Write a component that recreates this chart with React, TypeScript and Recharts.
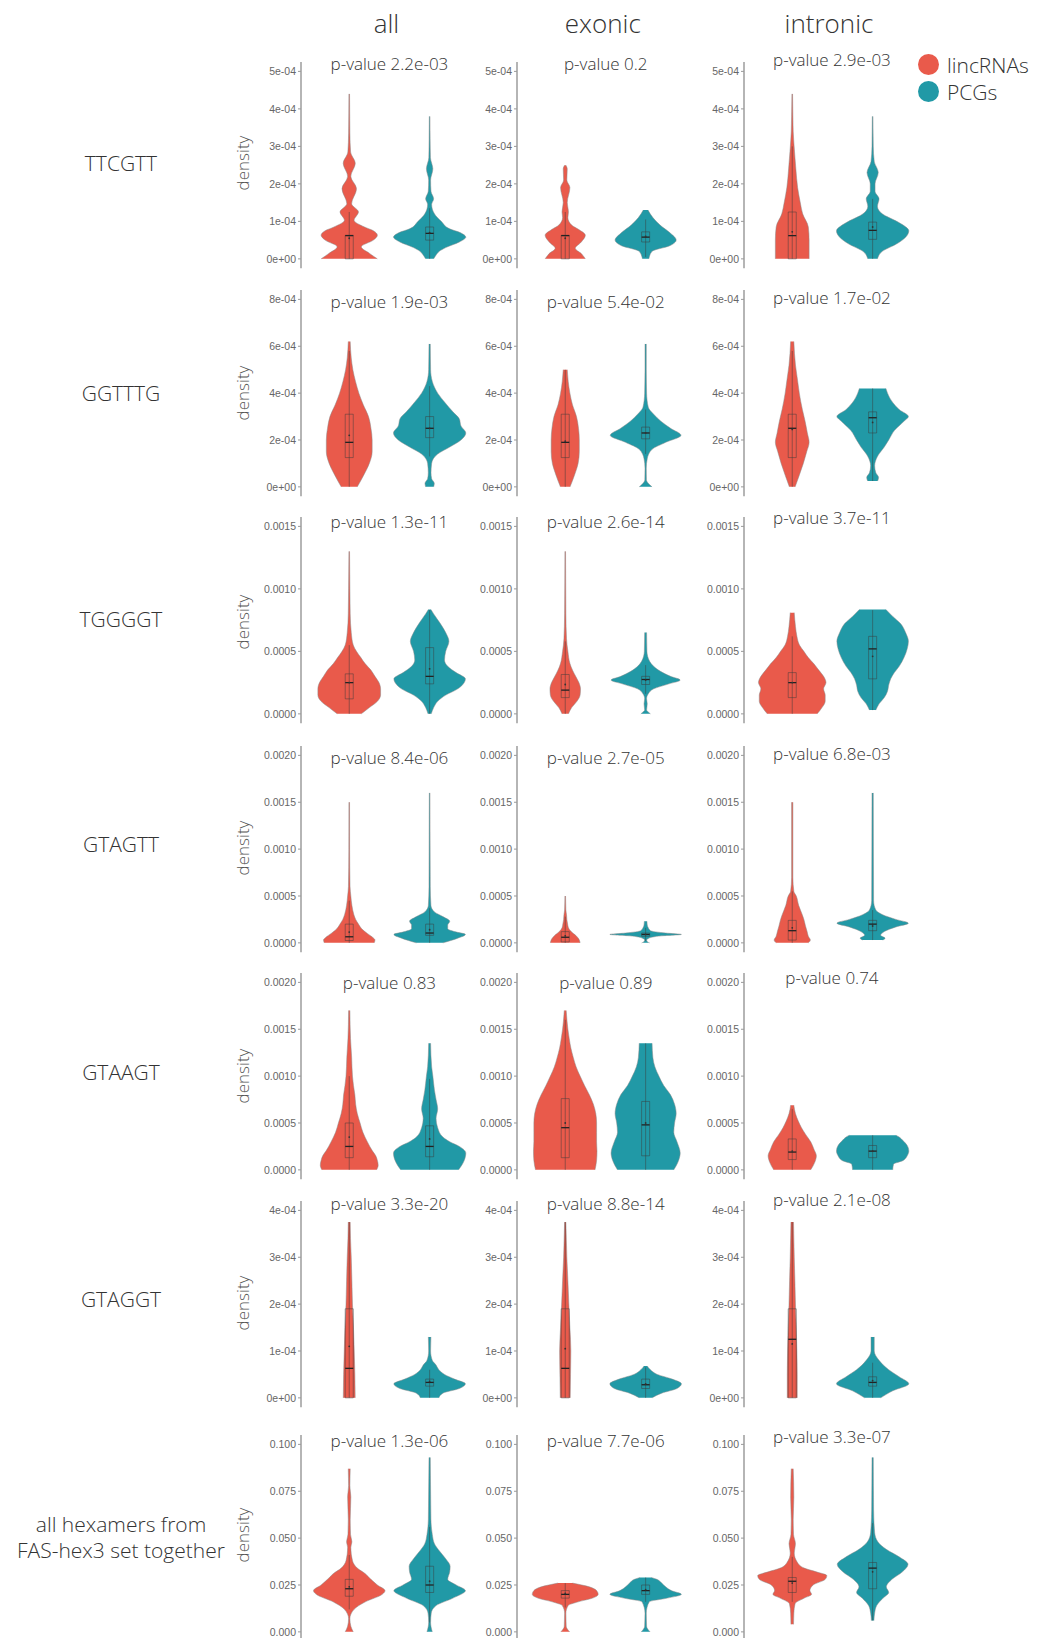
import React from "react";
import { ComposedChart, Area, XAxis, YAxis, ReferenceArea, ReferenceLine, ReferenceDot } from "recharts";

// colours
const RED = "#E95A4B";
const TEAL = "#2199A6";
const OUTLINE = "#8a8a8a";
const BOX = "#3a3a3a";

// labels
const columns = ["all", "exonic", "intronic"];
const hexamers = ["TTCGTT", "GGTTTG", "TGGGGT", "GTAGTT", "GTAAGT", "GTAGGT", "all hexamers from\nFAS-hex3 set together"];
const groups = ["lincRNAs", "PCGs"];
const pValues = [
  ["2.2e-03", "0.2", "2.9e-03"],
  ["1.9e-03", "5.4e-02", "1.7e-02"],
  ["1.3e-11", "2.6e-14", "3.7e-11"],
  ["8.4e-06", "2.7e-05", "6.8e-03"],
  ["0.83", "0.89", "0.74"],
  ["3.3e-20", "8.8e-14", "2.1e-08"],
  ["1.3e-06", "7.7e-06", "3.3e-07"],
];

// y ticks per row
const rowTicks = [
  [0, 1e-4, 2e-4, 3e-4, 4e-4, 5e-4],
  [0, 2e-4, 4e-4, 6e-4, 8e-4],
  [0, 0.0005, 0.001, 0.0015],
  [0, 0.0005, 0.001, 0.0015, 0.002],
  [0, 0.0005, 0.001, 0.0015, 0.002],
  [0, 1e-4, 2e-4, 3e-4, 4e-4],
  [0, 0.025, 0.05, 0.075, 0.1],
];
const rowTickLabels = [
  ["0e+00", "1e-04", "2e-04", "3e-04", "4e-04", "5e-04"],
  ["0e+00", "2e-04", "4e-04", "6e-04", "8e-04"],
  ["0.0000", "0.0005", "0.0010", "0.0015"],
  ["0.0000", "0.0005", "0.0010", "0.0015", "0.0020"],
  ["0.0000", "0.0005", "0.0010", "0.0015", "0.0020"],
  ["0e+00", "1e-04", "2e-04", "3e-04", "4e-04"],
  ["0.000", "0.025", "0.050", "0.075", "0.100"],
];

// violins: [density value, half width in group units]
// boxes: [whisker low, q1, median, q3, whisker high, mean]
const ttcgttAllLinc = [[0, 0.35], [0.15e-4, 0.25], [0.32e-4, 0.15], [0.5e-4, 0.3], [0.63e-4, 0.35], [0.75e-4, 0.3], [0.85e-4, 0.19], [1.03e-4, 0.06], [1.25e-4, 0.115], [1.47e-4, 0.03], [1.87e-4, 0.09], [2.2e-4, 0.02], [2.55e-4, 0.075], [2.85e-4, 0.017], [3.35e-4, 0.008], [4.4e-4, 0.004]];
const ttcgttAllPcg = [[0, 0.05], [0.1e-4, 0.08], [0.2e-4, 0.12], [0.3e-4, 0.2], [0.45e-4, 0.37], [0.58e-4, 0.45], [0.7e-4, 0.38], [0.8e-4, 0.25], [1.0e-4, 0.145], [1.2e-4, 0.06], [1.45e-4, 0.025], [1.6e-4, 0.05], [1.8e-4, 0.017], [2.1e-4, 0.012], [2.4e-4, 0.04], [2.7e-4, 0.01], [3.2e-4, 0.006], [3.8e-4, 0.004]];
const ttcgttExoLinc = [[0, 0.25], [0.14e-4, 0.2], [0.28e-4, 0.125], [0.45e-4, 0.2], [0.63e-4, 0.25], [0.78e-4, 0.17], [0.9e-4, 0.08], [1.1e-4, 0.033], [1.25e-4, 0.04], [1.5e-4, 0.025], [1.9e-4, 0.058], [2.1e-4, 0.02], [2.4e-4, 0.025], [2.5e-4, 0.008]];
const ttcgttExoPcg = [[0, 0.04], [0.2e-4, 0.08], [0.35e-4, 0.3], [0.5e-4, 0.38], [0.7e-4, 0.3], [0.9e-4, 0.18], [1.1e-4, 0.09], [1.3e-4, 0.03]];
const ttcgttIntLinc = [[0, 0.21], [0.5e-4, 0.21], [0.85e-4, 0.2], [1.2e-4, 0.13], [1.5e-4, 0.1], [1.9e-4, 0.067], [2.4e-4, 0.045], [2.9e-4, 0.027], [3.4e-4, 0.012], [3.8e-4, 0.008], [4.4e-4, 0.004]];
const ttcgttIntPcg = [[0, 0.06], [0.2e-4, 0.12], [0.4e-4, 0.3], [0.6e-4, 0.42], [0.75e-4, 0.45], [0.9e-4, 0.38], [1.0e-4, 0.3], [1.2e-4, 0.12], [1.4e-4, 0.06], [1.6e-4, 0.08], [1.8e-4, 0.03], [2.0e-4, 0.03], [2.3e-4, 0.07], [2.6e-4, 0.02], [3.0e-4, 0.008], [3.8e-4, 0.004]];
const ttcgttBoxes = [
  [[0, 0, 0.62e-4, 0.63e-4, 1.25e-4, 0.55e-4], [0, 0.5e-4, 0.68e-4, 0.85e-4, 1.35e-4, 0.7e-4]],
  [[0, 0, 0.62e-4, 0.63e-4, 1.25e-4, 0.55e-4], [0.05e-4, 0.45e-4, 0.58e-4, 0.72e-4, 1.05e-4, 0.6e-4]],
  [[0, 0, 0.62e-4, 1.25e-4, 3.0e-4, 0.72e-4], [0, 0.52e-4, 0.76e-4, 0.98e-4, 1.6e-4, 0.85e-4]],
];

const ggtttgAllLinc = [[0, 0.1], [0.5e-4, 0.18], [1.0e-4, 0.25], [1.5e-4, 0.285], [2.0e-4, 0.285], [2.5e-4, 0.27], [3.0e-4, 0.24], [3.5e-4, 0.175], [4.0e-4, 0.12], [4.5e-4, 0.078], [5.0e-4, 0.045], [5.5e-4, 0.025], [6.2e-4, 0.012]];
const ggtttgAllPcg = [[0, 0.05], [0.15e-4, 0.058], [0.35e-4, 0.025], [0.6e-4, 0.017], [1.0e-4, 0.025], [1.4e-4, 0.1], [1.7e-4, 0.25], [2.0e-4, 0.39], [2.3e-4, 0.45], [2.6e-4, 0.39], [2.9e-4, 0.37], [3.2e-4, 0.29], [3.6e-4, 0.19], [4.0e-4, 0.1], [4.5e-4, 0.033], [5.0e-4, 0.012], [6.1e-4, 0.008]];
const ggtttgExoLinc = [[0, 0.06], [0.5e-4, 0.115], [1.0e-4, 0.16], [1.5e-4, 0.175], [2.0e-4, 0.175], [2.5e-4, 0.165], [3.0e-4, 0.14], [3.5e-4, 0.09], [4.0e-4, 0.058], [4.5e-4, 0.037], [5.0e-4, 0.025]];
const ggtttgExoPcg = [[0, 0.08], [0.15e-4, 0.033], [0.3e-4, 0.01], [0.8e-4, 0.008], [1.2e-4, 0.02], [1.6e-4, 0.08], [1.9e-4, 0.25], [2.2e-4, 0.44], [2.5e-4, 0.31], [2.8e-4, 0.19], [3.1e-4, 0.1], [3.4e-4, 0.033], [4.0e-4, 0.012], [5.0e-4, 0.008], [6.1e-4, 0.008]];
const ggtttgIntLinc = [[0, 0.036], [0.5e-4, 0.088], [1.0e-4, 0.138], [1.5e-4, 0.18], [1.9e-4, 0.21], [2.3e-4, 0.188], [2.8e-4, 0.16], [3.3e-4, 0.126], [4.0e-4, 0.088], [4.6e-4, 0.064], [5.2e-4, 0.04], [6.2e-4, 0.02]];
const ggtttgIntPcg = [[0.25e-4, 0.062], [0.4e-4, 0.074], [0.6e-4, 0.04], [0.9e-4, 0.025], [1.3e-4, 0.06], [1.7e-4, 0.145], [2.0e-4, 0.2], [2.4e-4, 0.27], [2.8e-4, 0.39], [3.0e-4, 0.445], [3.3e-4, 0.33], [3.6e-4, 0.25], [4.0e-4, 0.185], [4.2e-4, 0.165]];
const ggtttgBoxes = [
  [[0, 1.25e-4, 1.9e-4, 3.1e-4, 5.8e-4, 2.2e-4], [1.3e-4, 2.1e-4, 2.5e-4, 3.0e-4, 4.3e-4, 2.5e-4]],
  [[0, 1.25e-4, 1.9e-4, 3.1e-4, 5.0e-4, 1.95e-4], [1.4e-4, 2.05e-4, 2.3e-4, 2.55e-4, 3.3e-4, 2.3e-4]],
  [[0, 1.25e-4, 2.5e-4, 3.1e-4, 5.8e-4, 2.45e-4], [0.25e-4, 2.3e-4, 2.95e-4, 3.2e-4, 4.2e-4, 2.75e-4]],
];

const tggggtAllLinc = [[0, 0.15], [0.5e-4, 0.25], [1.0e-4, 0.35], [1.5e-4, 0.39], [2.0e-4, 0.39], [2.5e-4, 0.37], [3.0e-4, 0.32], [3.5e-4, 0.27], [4.0e-4, 0.2], [4.5e-4, 0.145], [5.0e-4, 0.09], [5.5e-4, 0.05], [6.5e-4, 0.025], [8.0e-4, 0.012], [10e-4, 0.008], [13e-4, 0.004]];
const tggggtAllPcg = [[0, 0.02], [0.5e-4, 0.05], [1.0e-4, 0.1], [1.5e-4, 0.2], [2.0e-4, 0.35], [2.5e-4, 0.43], [2.8e-4, 0.445], [3.3e-4, 0.33], [3.8e-4, 0.225], [4.3e-4, 0.185], [5.0e-4, 0.2], [5.8e-4, 0.24], [6.5e-4, 0.2], [7.3e-4, 0.125], [8.0e-4, 0.05], [8.35e-4, 0.016]];
const tggggtExoLinc = [[0, 0.04], [0.5e-4, 0.08], [1.0e-4, 0.145], [1.5e-4, 0.185], [2.0e-4, 0.19], [2.5e-4, 0.17], [3.0e-4, 0.13], [3.5e-4, 0.09], [4.0e-4, 0.06], [5.0e-4, 0.033], [6.0e-4, 0.016], [8.0e-4, 0.008], [13e-4, 0.004]];
const tggggtExoPcg = [[0, 0.06], [0.15e-4, 0.033], [0.3e-4, 0.012], [0.8e-4, 0.02], [1.2e-4, 0.012], [1.6e-4, 0.033], [2.0e-4, 0.1], [2.4e-4, 0.29], [2.7e-4, 0.43], [3.0e-4, 0.31], [3.4e-4, 0.185], [3.8e-4, 0.1], [4.2e-4, 0.05], [5.0e-4, 0.016], [6.5e-4, 0.012]];
const tggggtIntLinc = [[0, 0.31], [0.5e-4, 0.37], [1.0e-4, 0.41], [1.5e-4, 0.41], [2.0e-4, 0.39], [2.5e-4, 0.42], [3.0e-4, 0.39], [3.5e-4, 0.33], [4.0e-4, 0.27], [4.5e-4, 0.2], [5.0e-4, 0.145], [5.5e-4, 0.09], [6.2e-4, 0.058], [7.0e-4, 0.04], [8.1e-4, 0.025]];
const tggggtIntPcg = [[0.3e-4, 0.04], [0.8e-4, 0.08], [1.3e-4, 0.145], [1.8e-4, 0.185], [2.3e-4, 0.2], [2.8e-4, 0.225], [3.3e-4, 0.27], [3.8e-4, 0.33], [4.5e-4, 0.39], [5.2e-4, 0.43], [5.8e-4, 0.445], [6.5e-4, 0.41], [7.2e-4, 0.35], [7.8e-4, 0.25], [8.35e-4, 0.165]];
const tggggtBoxes = [
  [[0, 1.2e-4, 2.5e-4, 3.2e-4, 5.5e-4, 2.5e-4], [0, 2.4e-4, 3.0e-4, 5.3e-4, 8.3e-4, 3.6e-4]],
  [[0, 1.3e-4, 1.9e-4, 3.15e-4, 5.8e-4, 2.35e-4], [1.6e-4, 2.35e-4, 2.75e-4, 3.0e-4, 3.9e-4, 2.7e-4]],
  [[0, 1.3e-4, 2.5e-4, 3.3e-4, 6.2e-4, 2.5e-4], [0.3e-4, 2.8e-4, 5.2e-4, 6.2e-4, 8.3e-4, 4.6e-4]],
];

const gtagttAllLinc = [[0, 0.31], [0.3e-4, 0.32], [0.6e-4, 0.29], [1.0e-4, 0.225], [1.5e-4, 0.155], [2.0e-4, 0.115], [2.5e-4, 0.08], [3.0e-4, 0.058], [4.0e-4, 0.033], [5.0e-4, 0.02], [6.0e-4, 0.01], [10e-4, 0.005], [15e-4, 0.004]];
const gtagttAllPcg = [[0, 0.165], [0.5e-4, 0.35], [0.9e-4, 0.445], [1.2e-4, 0.31], [1.5e-4, 0.225], [1.9e-4, 0.225], [2.3e-4, 0.25], [2.8e-4, 0.165], [3.3e-4, 0.06], [4.0e-4, 0.016], [6.0e-4, 0.008], [16e-4, 0.004]];
const gtagttExoLinc = [[0, 0.185], [0.4e-4, 0.17], [0.8e-4, 0.13], [1.2e-4, 0.074], [1.6e-4, 0.04], [2.0e-4, 0.03], [2.5e-4, 0.02], [3.0e-4, 0.016], [3.5e-4, 0.008], [5.0e-4, 0.004]];
const gtagttExoPcg = [[0, 0.05], [0.1e-4, 0.025], [0.3e-4, 0.012], [0.5e-4, 0.04], [0.75e-4, 0.2], [0.9e-4, 0.445], [1.05e-4, 0.25], [1.3e-4, 0.06], [1.6e-4, 0.033], [1.9e-4, 0.02], [2.3e-4, 0.016]];
const gtagttIntLinc = [[0, 0.2], [0.3e-4, 0.225], [0.7e-4, 0.2], [1.2e-4, 0.185], [1.8e-4, 0.165], [2.5e-4, 0.145], [3.0e-4, 0.125], [4.0e-4, 0.08], [5.0e-4, 0.05], [5.5e-4, 0.02], [7.0e-4, 0.008], [15e-4, 0.008]];
const gtagttIntPcg = [[0.3e-4, 0.125], [0.5e-4, 0.155], [0.8e-4, 0.1], [1.2e-4, 0.145], [1.7e-4, 0.29], [2.1e-4, 0.445], [2.5e-4, 0.29], [3.0e-4, 0.125], [3.5e-4, 0.04], [4.5e-4, 0.012], [16e-4, 0.008]];
const gtagttBoxes = [
  [[0, 0.25e-4, 0.65e-4, 2.0e-4, 4.5e-4, 1.15e-4], [0, 0.8e-4, 1.05e-4, 2.0e-4, 3.7e-4, 1.4e-4]],
  [[0, 0.1e-4, 0.6e-4, 1.2e-4, 2.8e-4, 0.75e-4], [0.2e-4, 0.7e-4, 0.9e-4, 1.05e-4, 1.6e-4, 0.9e-4]],
  [[0, 0.3e-4, 1.3e-4, 2.4e-4, 5.5e-4, 1.6e-4], [0.3e-4, 1.3e-4, 2.0e-4, 2.4e-4, 3.5e-4, 1.8e-4]],
];

const gtaagtAllLinc = [[0, 0.34], [0.5e-4, 0.36], [1.0e-4, 0.35], [1.5e-4, 0.33], [2.0e-4, 0.29], [3.0e-4, 0.225], [4.0e-4, 0.17], [5.0e-4, 0.135], [6.0e-4, 0.1], [7.0e-4, 0.08], [8.0e-4, 0.07], [9.0e-4, 0.053], [10e-4, 0.04], [12e-4, 0.03], [14e-4, 0.016], [17e-4, 0.008]];
const gtaagtAllPcg = [[0, 0.36], [1.0e-4, 0.43], [1.8e-4, 0.45], [2.5e-4, 0.37], [3.0e-4, 0.25], [3.5e-4, 0.165], [4.5e-4, 0.1], [5.5e-4, 0.08], [6.5e-4, 0.1], [7.5e-4, 0.08], [8.5e-4, 0.06], [10e-4, 0.04], [11e-4, 0.025], [13.5e-4, 0.012]];
const gtaagtExoLinc = [[0, 0.37], [1.0e-4, 0.39], [2.0e-4, 0.395], [3.0e-4, 0.39], [4.0e-4, 0.39], [5.0e-4, 0.39], [6.0e-4, 0.38], [7.0e-4, 0.35], [8.0e-4, 0.3], [9.0e-4, 0.24], [10e-4, 0.185], [11e-4, 0.135], [12e-4, 0.1], [13e-4, 0.07], [14e-4, 0.05], [15e-4, 0.033], [17e-4, 0.012]];
const gtaagtExoPcg = [[0, 0.35], [1.0e-4, 0.41], [1.8e-4, 0.43], [3.0e-4, 0.39], [4.0e-4, 0.35], [5.0e-4, 0.36], [6.0e-4, 0.38], [7.0e-4, 0.36], [8.0e-4, 0.31], [9.0e-4, 0.225], [10e-4, 0.165], [11e-4, 0.115], [12e-4, 0.09], [13.5e-4, 0.08]];
const gtaagtIntLinc = [[0, 0.23], [0.8e-4, 0.28], [1.5e-4, 0.3], [2.2e-4, 0.27], [3.0e-4, 0.23], [3.8e-4, 0.165], [4.5e-4, 0.115], [5.2e-4, 0.075], [6.0e-4, 0.04], [6.9e-4, 0.02]];
const gtaagtIntPcg = [[0, 0.25], [0.6e-4, 0.26], [1.0e-4, 0.38], [1.5e-4, 0.43], [2.0e-4, 0.45], [2.6e-4, 0.43], [3.1e-4, 0.38], [3.5e-4, 0.33], [3.7e-4, 0.29]];
const gtaagtBoxes = [
  [[0, 1.3e-4, 2.5e-4, 5.0e-4, 10e-4, 3.5e-4], [0, 1.4e-4, 2.5e-4, 4.7e-4, 9.7e-4, 3.3e-4]],
  [[0, 1.3e-4, 4.5e-4, 7.6e-4, 16e-4, 5e-4], [0, 1.5e-4, 4.8e-4, 7.3e-4, 13.5e-4, 5e-4]],
  [[0, 1.1e-4, 1.9e-4, 3.3e-4, 6.5e-4, 2.0e-4], [0, 1.3e-4, 2.0e-4, 2.6e-4, 3.7e-4, 2.0e-4]],
];

const gtaggtAllLinc = [[0, 0.074], [0.5e-4, 0.07], [1.0e-4, 0.062], [1.5e-4, 0.053], [2.0e-4, 0.04], [2.5e-4, 0.033], [3.0e-4, 0.025], [3.4e-4, 0.016], [3.75e-4, 0.012]];
const gtaggtAllPcg = [[0, 0.115], [0.1e-4, 0.165], [0.2e-4, 0.37], [0.3e-4, 0.445], [0.4e-4, 0.31], [0.5e-4, 0.185], [0.6e-4, 0.115], [0.7e-4, 0.08], [0.8e-4, 0.033], [1.0e-4, 0.012], [1.3e-4, 0.016]];
const gtaggtExoLinc = [[0, 0.062], [0.5e-4, 0.066], [1.0e-4, 0.07], [1.5e-4, 0.058], [2.0e-4, 0.045], [2.5e-4, 0.033], [3.0e-4, 0.02], [3.75e-4, 0.008]];
const gtaggtExoPcg = [[0, 0.08], [0.1e-4, 0.2], [0.2e-4, 0.39], [0.3e-4, 0.445], [0.4e-4, 0.33], [0.5e-4, 0.145], [0.6e-4, 0.06], [0.68e-4, 0.02]];
const gtaggtIntLinc = [[0, 0.062], [0.5e-4, 0.062], [1.0e-4, 0.058], [1.5e-4, 0.05], [2.0e-4, 0.04], [2.5e-4, 0.033], [3.0e-4, 0.025], [3.75e-4, 0.016]];
const gtaggtIntPcg = [[0, 0.1], [0.15e-4, 0.25], [0.3e-4, 0.45], [0.45e-4, 0.33], [0.6e-4, 0.2], [0.8e-4, 0.08], [1.0e-4, 0.02], [1.3e-4, 0.02]];
const gtaggtBoxes = [
  [[0, 0, 0.63e-4, 1.9e-4, 3.75e-4, 1.1e-4], [0, 0.25e-4, 0.33e-4, 0.4e-4, 0.6e-4, 0.35e-4]],
  [[0, 0, 0.63e-4, 1.9e-4, 3.75e-4, 1.05e-4], [0, 0.2e-4, 0.28e-4, 0.4e-4, 0.65e-4, 0.3e-4]],
  [[0, 0, 1.25e-4, 1.9e-4, 3.75e-4, 1.15e-4], [0, 0.25e-4, 0.33e-4, 0.45e-4, 0.75e-4, 0.37e-4]],
];

const hex3AllLinc = [[0, 0.05], [0.003, 0.02], [0.007, 0.008], [0.012, 0.06], [0.016, 0.2], [0.02, 0.41], [0.022, 0.445], [0.025, 0.35], [0.028, 0.27], [0.031, 0.2], [0.034, 0.1], [0.038, 0.04], [0.045, 0.02], [0.048, 0.033], [0.052, 0.016], [0.06, 0.012], [0.072, 0.02], [0.078, 0.008], [0.087, 0.012]];
const hex3AllPcg = [[0, 0.033], [0.005, 0.012], [0.01, 0.02], [0.014, 0.08], [0.018, 0.29], [0.022, 0.445], [0.025, 0.33], [0.028, 0.225], [0.032, 0.25], [0.035, 0.255], [0.039, 0.2], [0.043, 0.125], [0.047, 0.06], [0.052, 0.033], [0.06, 0.016], [0.075, 0.012], [0.093, 0.008]];
const hex3ExoLinc = [[0, 0.055], [0.003, 0.012], [0.01, 0.008], [0.014, 0.036], [0.016, 0.16], [0.018, 0.34], [0.02, 0.41], [0.022, 0.39], [0.024, 0.3], [0.026, 0.09]];
const hex3ExoPcg = [[0, 0.055], [0.003, 0.012], [0.01, 0.008], [0.016, 0.045], [0.018, 0.27], [0.02, 0.445], [0.022, 0.32], [0.024, 0.25], [0.026, 0.2], [0.028, 0.14], [0.029, 0.07]];
const hex3IntLinc = [[0.004, 0.016], [0.01, 0.02], [0.015, 0.035], [0.018, 0.15], [0.02, 0.24], [0.022, 0.22], [0.025, 0.26], [0.028, 0.41], [0.03, 0.43], [0.032, 0.3], [0.034, 0.15], [0.037, 0.065], [0.042, 0.025], [0.047, 0.04], [0.052, 0.016], [0.06, 0.012], [0.072, 0.02], [0.087, 0.012]];
const hex3IntPcg = [[0.006, 0.016], [0.01, 0.025], [0.014, 0.05], [0.018, 0.13], [0.021, 0.2], [0.024, 0.17], [0.028, 0.24], [0.032, 0.37], [0.036, 0.44], [0.04, 0.33], [0.044, 0.17], [0.048, 0.065], [0.053, 0.025], [0.065, 0.012], [0.093, 0.008]];
const hex3Boxes = [
  [[0.012, 0.019, 0.023, 0.028, 0.041, 0.024], [0.005, 0.021, 0.025, 0.035, 0.056, 0.027]],
  [[0.013, 0.018, 0.02, 0.022, 0.026, 0.0205], [0.016, 0.02, 0.022, 0.025, 0.029, 0.0225]],
  [[0.016, 0.021, 0.027, 0.029, 0.04, 0.026], [0.006, 0.023, 0.034, 0.037, 0.058, 0.032]],
];

const violins = [
  [[ttcgttAllLinc, ttcgttAllPcg], [ttcgttExoLinc, ttcgttExoPcg], [ttcgttIntLinc, ttcgttIntPcg]],
  [[ggtttgAllLinc, ggtttgAllPcg], [ggtttgExoLinc, ggtttgExoPcg], [ggtttgIntLinc, ggtttgIntPcg]],
  [[tggggtAllLinc, tggggtAllPcg], [tggggtExoLinc, tggggtExoPcg], [tggggtIntLinc, tggggtIntPcg]],
  [[gtagttAllLinc, gtagttAllPcg], [gtagttExoLinc, gtagttExoPcg], [gtagttIntLinc, gtagttIntPcg]],
  [[gtaagtAllLinc, gtaagtAllPcg], [gtaagtExoLinc, gtaagtExoPcg], [gtaagtIntLinc, gtaagtIntPcg]],
  [[gtaggtAllLinc, gtaggtAllPcg], [gtaggtExoLinc, gtaggtExoPcg], [gtaggtIntLinc, gtaggtIntPcg]],
  [[hex3AllLinc, hex3AllPcg], [hex3ExoLinc, hex3ExoPcg], [hex3IntLinc, hex3IntPcg]],
];
const boxes = [ttcgttBoxes, ggtttgBoxes, tggggtBoxes, gtagttBoxes, gtaagtBoxes, gtaggtBoxes, hex3Boxes];

// layout (px)
const AXIS_X = [301, 517.3, 743.5];
const TOP_TICK_Y = [71.3, 299, 526, 755, 982.3, 1210.7, 1444];
const TITLE_Y = [62.7, 300.8, 521.1, 757.1, 981.6, 1203, 1440];
const ROW_LABEL_Y = [163, 392.6, 619.3, 843.8, 1071.5, 1299, 1536.6];
const DENSITY_Y = [163, 392.7, 622.4, 848, 1075.6, 1303, 1535];
const UNIT = 80.4;
const SPAN = 187.5;
const YW = 60;
const PAD = 4;
const BOX_HW = 0.05;
const PLOT_W = 2.2 * UNIT;
const PLOT_H = 1.1 * SPAN;

const light = { fontFamily: "'Open Sans', 'Noto Sans', sans-serif", fontWeight: 300, color: "#333" } as const;

const Panel = ({ r, c }: { r: number; c: number }) => {
  const [linc, pcg] = violins[r][c];
  const ticks = rowTicks[r];
  const labels = rowTickLabels[r];
  const top = ticks[ticks.length - 1];
  const rows = [
    ...linc.map(([y, w]) => ({ y, linc: [1 - w, 1 + w], pcg: [null, null] })),
    ...pcg.map(([y, w]) => ({ y, linc: [null, null], pcg: [2 - w, 2 + w] })),
  ].sort((a, b) => a.y - b.y);

  return (
    <div style={{ position: "absolute", left: AXIS_X[c] - YW, top: TOP_TICK_Y[r] - 0.05 * SPAN - PAD }}>
      <ComposedChart
        layout="vertical"
        width={YW + PLOT_W + 2}
        height={PLOT_H + PAD * 2}
        data={rows}
        margin={{ top: PAD, right: 2, bottom: PAD, left: 0 }}
      >
        <XAxis type="number" domain={[0.4, 2.6]} allowDataOverflow hide />
        <YAxis
          type="number"
          dataKey="y"
          width={YW}
          reversed
          domain={[-0.05 * top, 1.05 * top]}
          allowDataOverflow
          ticks={ticks}
          interval={0}
          tickFormatter={(v: number, i: number) => labels[i] ?? String(v)}
          tick={{ fontSize: 10.5, fill: "#666", fontFamily: "'Liberation Sans', Arial, sans-serif" }}
          tickSize={3}
          tickMargin={2}
          tickLine={{ stroke: "#999" }}
          axisLine={{ stroke: "#a3a3a3", strokeWidth: 1.6 }}
        />
        <Area
          dataKey="linc"
          type="monotone"
          fill={RED}
          fillOpacity={1}
          stroke={OUTLINE}
          strokeWidth={0.5}
          connectNulls
          dot={false}
          activeDot={false}
          isAnimationActive={false}
        />
        <Area
          dataKey="pcg"
          type="monotone"
          fill={TEAL}
          fillOpacity={1}
          stroke={OUTLINE}
          strokeWidth={0.5}
          connectNulls
          dot={false}
          activeDot={false}
          isAnimationActive={false}
        />
        {boxes[r][c].map((b, i) => {
          const x = i + 1;
          return (
            <React.Fragment key={i}>
              <ReferenceLine segment={[{ x, y: b[0] }, { x, y: b[4] }]} stroke={BOX} strokeWidth={0.6} strokeOpacity={0.8} />
              <ReferenceArea x1={x - BOX_HW} x2={x + BOX_HW} y1={b[1]} y2={b[3]} fill="none" stroke={BOX} strokeWidth={0.6} strokeOpacity={0.8} />
              <ReferenceLine segment={[{ x: x - BOX_HW, y: b[2] }, { x: x + BOX_HW, y: b[2] }]} stroke="#222" strokeWidth={1.3} />
              <ReferenceDot x={x} y={b[5]} r={0.9} fill="#333" stroke="none" />
            </React.Fragment>
          );
        })}
      </ComposedChart>
    </div>
  );
};

export default function App() {
  return (
    <div style={{ position: "absolute", left: 0, top: 0, width: 1038, height: 1638, background: "#fff", overflow: "hidden" }}>
      {columns.map((name, c) => (
        <div
          key={name}
          style={{ ...light, position: "absolute", left: AXIS_X[c] + PLOT_W / 2 - 3, top: 23, transform: "translate(-50%, -50%)", fontSize: 26, whiteSpace: "nowrap" }}
        >
          {name}
        </div>
      ))}

      {hexamers.map((h, r) => (
        <div
          key={h}
          style={{ ...light, position: "absolute", left: 121, top: ROW_LABEL_Y[r], transform: "translate(-50%, -50%)", fontSize: 21, lineHeight: "26px", textAlign: "center", whiteSpace: "pre" }}
        >
          {h}
        </div>
      ))}

      {DENSITY_Y.map((y, r) => (
        <div
          key={r}
          style={{ ...light, color: "#555", position: "absolute", left: 242, top: y, transform: "translate(-50%, -50%) rotate(-90deg)", fontSize: 17, whiteSpace: "nowrap" }}
        >
          density
        </div>
      ))}

      {violins.map((row, r) => row.map((_, c) => <Panel key={`${r}-${c}`} r={r} c={c} />))}

      {pValues.map((row, r) =>
        row.map((p, c) => (
          <div
            key={`${r}-${c}`}
            style={{ ...light, position: "absolute", left: AXIS_X[c] + PLOT_W / 2, top: TITLE_Y[r] - (c === 2 ? 4.2 : 0), transform: "translate(-50%, -50%)", fontSize: 17, whiteSpace: "nowrap" }}
          >
            p-value {p}
          </div>
        ))
      )}

      {groups.map((g, i) => (
        <div key={g} style={{ position: "absolute", left: 918, top: 54 + i * 27.2, height: 21, display: "flex", alignItems: "center" }}>
          <div style={{ width: 21, height: 21, borderRadius: "50%", background: i === 0 ? RED : TEAL }} />
          <div style={{ ...light, fontSize: 21, marginLeft: 8, whiteSpace: "nowrap" }}>{g}</div>
        </div>
      ))}
    </div>
  );
}
